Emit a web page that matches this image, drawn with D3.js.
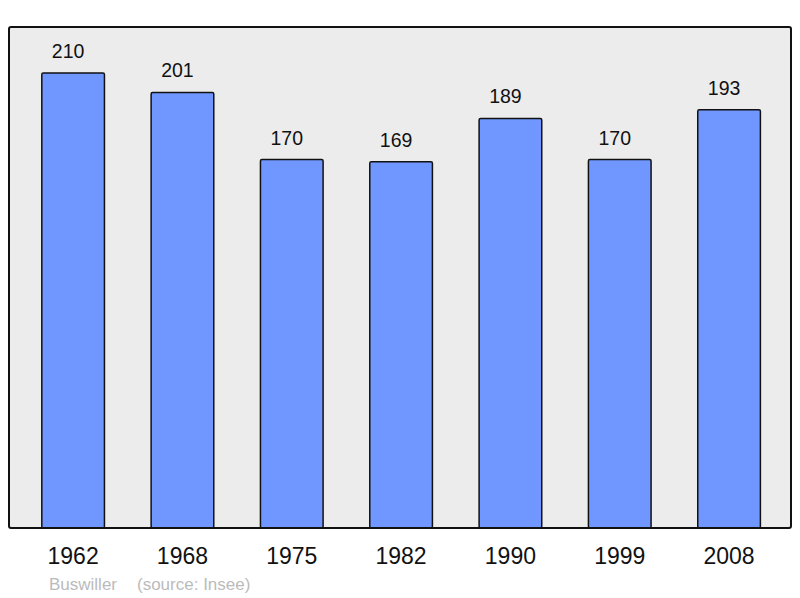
<!DOCTYPE html>
<html>
<head>
<meta charset="utf-8">
<script src="https://cdn.jsdelivr.net/npm/d3@7"></script>
<style>
  body { margin: 0; background: #fff; }
  svg text { font-family: "Liberation Sans", Arial, sans-serif; }
</style>
</head>
<body>
<div id="chart"></div>
<script>
// population by census year
var years = ["1962", "1968", "1975", "1982", "1990", "1999", "2008"];
var population = [210, 201, 170, 169, 189, 170, 193];

var svgWidth = 800, svgHeight = 598;
var frame = { left: 9, top: 27, right: 791, bottom: 528 };

var svg = d3.select("#chart").append("svg")
    .attr("width", svgWidth)
    .attr("height", svgHeight);

// plot background
svg.append("rect")
    .attr("x", frame.left)
    .attr("y", frame.top)
    .attr("width", frame.right - frame.left)
    .attr("height", frame.bottom - frame.top)
    .attr("rx", 2)
    .attr("fill", "#ececec");

var xScale = d3.scaleBand()
    .domain(years)
    .range([frame.left + 1.1, frame.right + 1.1])
    .paddingInner(0.427)
    .paddingOuter(0.29);

var yScale = d3.scaleLinear()
    .domain([0, 231.2])
    .range([frame.bottom, frame.top]);

svg.selectAll("rect.bar")
    .data(years)
    .enter()
    .append("rect")
    .attr("class", "bar")
    .attr("x", function(d) { return xScale(d); })
    .attr("y", function(d, i) { return yScale(population[i]); })
    .attr("width", xScale.bandwidth())
    .attr("height", function(d, i) { return frame.bottom - yScale(population[i]); })
    .attr("rx", 1.5)
    .attr("fill", "#7097ff")
    .attr("stroke", "#111")
    .attr("stroke-width", 1.5);

// value labels above bars
svg.selectAll("text.value")
    .data(years)
    .enter()
    .append("text")
    .attr("class", "value")
    .attr("x", function(d) { return xScale(d) + xScale.bandwidth() / 2 - 5; })
    .attr("y", function(d, i) { return yScale(population[i]) - 15; })
    .attr("text-anchor", "middle")
    .attr("font-size", "19.5px")
    .attr("fill", "#111")
    .text(function(d, i) { return population[i]; });

// frame border drawn on top
svg.append("rect")
    .attr("x", frame.left)
    .attr("y", frame.top)
    .attr("width", frame.right - frame.left)
    .attr("height", frame.bottom - frame.top)
    .attr("rx", 2)
    .attr("fill", "none")
    .attr("stroke", "#111")
    .attr("stroke-width", 2);

// year labels
svg.selectAll("text.year")
    .data(years)
    .enter()
    .append("text")
    .attr("class", "year")
    .attr("x", function(d) { return xScale(d) + xScale.bandwidth() / 2; })
    .attr("y", 564)
    .attr("text-anchor", "middle")
    .attr("font-size", "23px")
    .attr("fill", "#111")
    .text(function(d) { return d; });

svg.append("text")
    .attr("x", 49)
    .attr("y", 590)
    .attr("font-size", "17px")
    .attr("fill", "#bbb")
    .text("Buswiller");

svg.append("text")
    .attr("x", 137)
    .attr("y", 590)
    .attr("font-size", "17px")
    .attr("fill", "#bbb")
    .text("(source: Insee)");
</script>
</body>
</html>
